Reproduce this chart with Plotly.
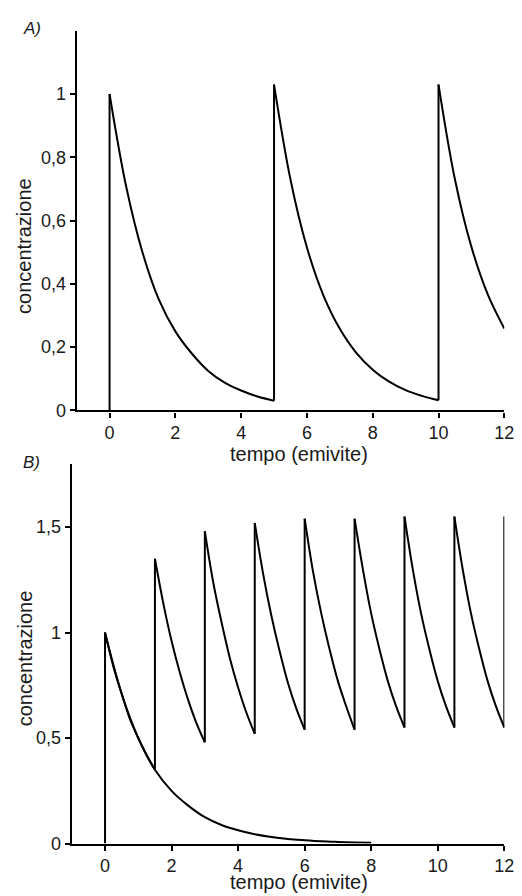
import plotly.graph_objects as go

# ---------------- Panel A: one dose every 5 half-lives ----------------
a_dose_times = [0, 5, 10]
a_step = 0.5
a_seg1 = [1.00, 0.71, 0.50, 0.35, 0.25, 0.18, 0.125, 0.088, 0.063, 0.044, 0.031]
a_seg2 = [1.03, 0.73, 0.515, 0.364, 0.258, 0.182, 0.129, 0.091, 0.064, 0.046, 0.032]
a_seg3 = [1.03, 0.73, 0.517, 0.366, 0.259]
a_segments = [a_seg1, a_seg2, a_seg3]

# ---------------- Panel B: one dose every 1.5 half-lives ----------------
b_dose_times = [0, 1.5, 3, 4.5, 6, 7.5, 9, 10.5]
b_step = 0.25
b_segments = [
    [1.00, 0.84, 0.71, 0.59, 0.50, 0.42, 0.35],
    [1.35, 1.14, 0.96, 0.81, 0.68, 0.57, 0.48],
    [1.48, 1.24, 1.05, 0.88, 0.74, 0.62, 0.52],
    [1.52, 1.28, 1.08, 0.91, 0.76, 0.64, 0.54],
    [1.54, 1.29, 1.09, 0.92, 0.77, 0.65, 0.54],
    [1.54, 1.30, 1.09, 0.92, 0.77, 0.65, 0.55],
    [1.55, 1.30, 1.09, 0.92, 0.77, 0.65, 0.55],
    [1.55, 1.30, 1.09, 0.92, 0.77, 0.65, 0.55],
]
b_last_dose_time = 12
b_last_peak = 1.55
# single dose curve
b_single_step = 0.5
b_single = [1.00, 0.71, 0.50, 0.35, 0.25, 0.18, 0.125, 0.088, 0.063, 0.044,
            0.031, 0.022, 0.016, 0.011, 0.008, 0.0055, 0.004]

a_yticks = [0, 0.2, 0.4, 0.6, 0.8, 1]
a_yticktext = ["0", "0,2", "0,4", "0,6", "0,8", "1"]
b_yticks = [0, 0.5, 1, 1.5]
b_yticktext = ["0", "0,5", "1", "1,5"]
xticks = [0, 2, 4, 6, 8, 10, 12]
xticktext = ["0", "2", "4", "6", "8", "10", "12"]

FONT = "Liberation Sans, Arial, sans-serif"
TXT = "#1a1a1a"
LW = 2

fig = go.Figure()

def add_line(x, y, xa, ya, shape="linear"):
    fig.add_trace(go.Scatter(x=x, y=y, mode="lines", xaxis=xa, yaxis=ya,
                             line=dict(color="black", width=LW, shape=shape),
                             hoverinfo="skip", showlegend=False))

# Panel A
prev_end = 0
for t0, seg in zip(a_dose_times, a_segments):
    add_line([t0, t0], [prev_end, seg[0]], "x", "y")
    xs = [t0 + i * a_step for i in range(len(seg))]
    add_line(xs, seg, "x", "y", shape="spline")
    prev_end = seg[-1]

# Panel B
add_line([0, 0], [0, 1.0], "x2", "y2")
xs = [i * b_single_step for i in range(len(b_single))]
add_line(xs, b_single, "x2", "y2", shape="spline")
prev_end = None
for t0, seg in zip(b_dose_times, b_segments):
    if prev_end is not None:
        add_line([t0, t0], [prev_end, seg[0]], "x2", "y2")
    xs = [t0 + i * b_step for i in range(len(seg))]
    add_line(xs, seg, "x2", "y2", shape="spline")
    prev_end = seg[-1]
add_line([b_last_dose_time, b_last_dose_time], [prev_end, b_last_peak], "x2", "y2")

W, H = 522, 896

def px_x(p):
    return p / W

def px_y(p):
    return 1 - p / H

axis_common = dict(showline=True, linewidth=2.2, linecolor="black", showgrid=False,
                   zeroline=False, ticks="outside", ticklen=5, tickwidth=1.8,
                   tickcolor="black", tickfont=dict(family=FONT, size=18, color=TXT),
                   ticklabeloverflow="allow", fixedrange=True)

fig.update_layout(
    width=W, height=H, margin=dict(l=0, r=0, t=0, b=0),
    paper_bgcolor="white", plot_bgcolor="white",
    xaxis=dict(domain=[px_x(70), px_x(506)], range=[-1, 12], anchor="y",
               tickvals=xticks, ticktext=xticktext, **axis_common),
    yaxis=dict(domain=[px_y(407), px_y(23)], range=[0, 1.2], anchor="x",
               tickvals=a_yticks, ticktext=a_yticktext, **axis_common),
    xaxis2=dict(domain=[px_x(65), px_x(506)], range=[-1, 12], anchor="y2",
                tickvals=xticks, ticktext=xticktext, **axis_common),
    yaxis2=dict(domain=[px_y(845), px_y(461)], range=[0, 1.8], anchor="x2",
                tickvals=b_yticks, ticktext=b_yticktext, **axis_common),
)

def note(text, x, y, size=20, angle=0):
    fig.add_annotation(text=text, x=px_x(x), y=px_y(y), xref="paper", yref="paper",
                       xanchor="center", yanchor="middle", showarrow=False,
                       textangle=angle, font=dict(family=FONT, size=size, color=TXT))

note("<i>A)</i>", 24, 21, size=17)
note("<i>B)</i>", 24, 460, size=17)
note("concentrazione", 17, 241, angle=-90)
note("concentrazione", 17, 658, angle=-90)
note("tempo (emivite)", 297, 451)
note("tempo (emivite)", 297, 884)

fig.write_html("out.html")
